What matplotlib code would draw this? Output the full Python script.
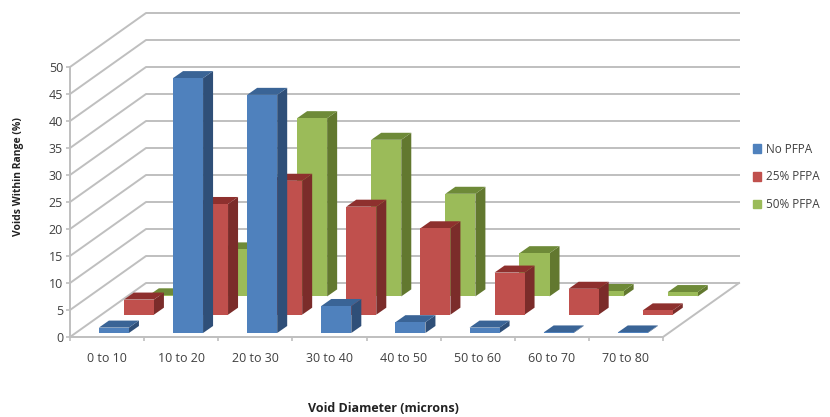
#!/usr/bin/env python3
"""Void size distribution, Excel style 3D column chart drawn with an oblique projection."""
import matplotlib
matplotlib.use('Agg')
import matplotlib.pyplot as plt
from matplotlib.patches import Patch

categories = ['0 to 10', '10 to 20', '20 to 30', '30 to 40',
              '40 to 50', '50 to 60', '60 to 70', '70 to 80']
no_pfpa = [1.0, 47.2, 44.1, 5.0, 2.0, 1.0, 0.1, 0.1]
pfpa_25 = [2.8, 20.5, 24.8, 20.0, 16.0, 7.8, 4.8, 0.8]
pfpa_50 = [0.2, 8.7, 33.0, 29.0, 19.0, 8.0, 1.0, 0.8]
yticks = list(range(0, 55, 5))

FONT = 'Open Sans'
# depth of the floor, in axis units (one category wide = 74.1 px, 5 units = 27 px)
DX, DY = 76 / 74.1, 10.0
BAR_W = 0.405
BAR_DX, BAR_DY = 0.135, 1.3
GRID = '#BFBFBF'

# front, top, side
BLUE = ('#4F81BD', '#3A6496', '#2F4F78')
RED = ('#C0504D', '#8E302E', '#7B2C2A')
GREEN = ('#9BBB59', '#6E8A38', '#62782F')

fig = plt.figure(figsize=(8.3, 4.17), dpi=100)
ax = fig.add_axes([70 / 830, 80 / 417, 593 / 830, 270 / 417])
ax.set_xlim(0, 8)
ax.set_ylim(0, 50)
ax.patch.set_visible(False)


def bar3d(x, base, h, colors):
    front, top, side = colors
    ax.fill([x + BAR_W, x + BAR_W + BAR_DX, x + BAR_W + BAR_DX, x + BAR_W],
            [base, base + BAR_DY, base + h + BAR_DY, base + h],
            color=side, lw=0, clip_on=False, zorder=3)
    ax.fill([x, x + BAR_DX, x + BAR_W + BAR_DX, x + BAR_W],
            [base + h, base + h + BAR_DY, base + h + BAR_DY, base + h],
            color=top, lw=0, clip_on=False, zorder=3)
    ax.fill([x, x + BAR_W, x + BAR_W, x], [base, base, base + h, base + h],
            color=front, lw=0, clip_on=False, zorder=3)


# walls and floor
for v in yticks:
    ax.plot([0, DX, 8 + DX], [v, v + DY, v + DY], color=GRID, lw=1.4,
            clip_on=False, zorder=1)
ax.plot([8, 8 + DX], [0, DY], color=GRID, lw=1.4, clip_on=False, zorder=1)

# back row first so the front row covers it
for row, (vals, colors) in enumerate([(pfpa_50, GREEN), (pfpa_25, RED), (no_pfpa, BLUE)]):
    step = 2 - row
    for i, v in enumerate(vals):
        bar3d(i + 0.39 + step * 0.337, 0.74 + step * 3.39, v, colors)

for s in ['top', 'right']:
    ax.spines[s].set_visible(False)
for s in ['left', 'bottom']:
    ax.spines[s].set_color(GRID)
    ax.spines[s].set_linewidth(1.4)

ax.set_yticks(yticks)
ax.set_xticks([i + 0.5 for i in range(8)])
ax.set_xticklabels(categories)
ax.set_xticks(range(9), minor=True)
ax.tick_params(axis='x', which='major', length=0, pad=11, labelsize=9, labelcolor='#404040')
ax.tick_params(axis='x', which='minor', length=3, color=GRID, width=1.2)
ax.tick_params(axis='y', length=3, color=GRID, width=1.2, pad=2, labelsize=9, labelcolor='#404040')
for t in ax.get_xticklabels() + ax.get_yticklabels():
    t.set_family(FONT)

fig.text(383 / 830, 1 - 409 / 417, 'Void Diameter (microns)', ha='center', va='center',
         fontsize=9, fontweight='bold', family=FONT, color='#222222')
fig.text(18 / 830, 1 - 177 / 417, 'Voids Within Range (%)', ha='center', va='center',
         rotation=90, fontsize=7.5, fontweight='bold', family=FONT, color='#222222')

handles = [Patch(color=BLUE[0], label='No PFPA'),
           Patch(color=RED[0], label='25% PFPA'),
           Patch(color=GREEN[0], label='50% PFPA')]
leg = fig.legend(handles=handles, loc='center left', bbox_to_anchor=(742 / 830, 1 - 177 / 417),
                 frameon=False, prop={'family': FONT, 'size': 8.5},
                 handlelength=0.75, handleheight=0.75, handletextpad=0.35, labelspacing=1.25)
for t in leg.get_texts():
    t.set_color('#404040')

fig.savefig('out.png', dpi=100)
